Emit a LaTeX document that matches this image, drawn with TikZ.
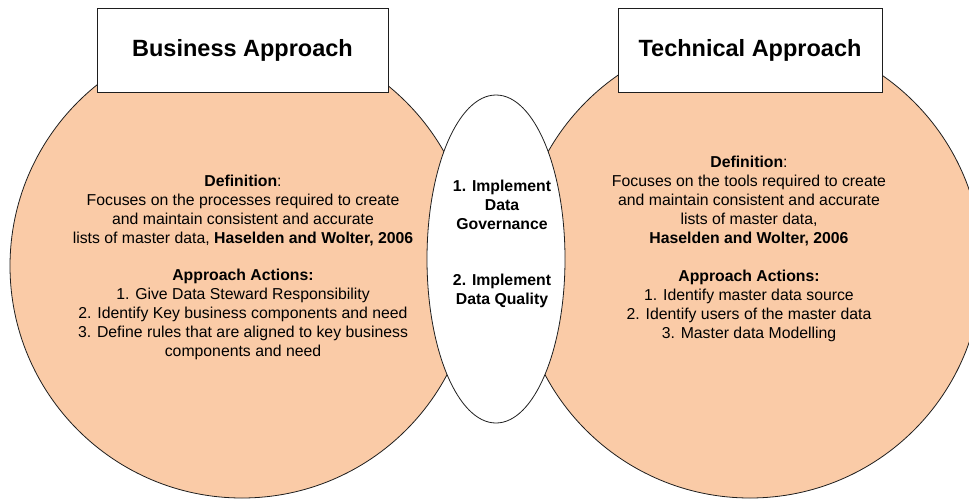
\documentclass[tikz,border=0pt]{standalone}
\usepackage{fontspec}
\setmainfont{Liberation Sans}
\usetikzlibrary{shapes.geometric}
\definecolor{peach}{RGB}{250,203,167}
\definecolor{edge}{RGB}{30,30,30}
\tikzset{
  disc/.style={circle, draw=edge, line width=0.8pt, fill=peach, minimum size=464pt, inner sep=0pt},
  titlebox/.style={rectangle, draw=edge, line width=0.8pt, fill=white, minimum height=84pt, inner sep=0pt,
     font=\fontsize{23.5}{28}\selectfont\bfseries},
  midellipse/.style={ellipse, draw=edge, line width=0.8pt, fill=white, minimum width=138pt, minimum height=328pt, inner sep=0pt},
  bodytext/.style={align=center, inner sep=0pt, font=\fontsize{15.8}{18.8}\selectfont},
}
\begin{document}
\begin{tikzpicture}[x=1pt, y=-1pt]
\useasboundingbox (0,0) rectangle (969,498);
\clip (0,0) rectangle (969,498);
\node[disc] (L) at (242,266) {};
\node[disc] (R) at (750,266) {};
\node[midellipse] (M) at (496,259) {};
\node[titlebox, minimum width=291pt] (LT) at (242.5,50) {Business Approach};
\node[titlebox, minimum width=264pt] (RT) at (750,50) {Technical Approach};
\node[bodytext] (LX) at (243,267.5) {\textbf{Definition}:\\
Focuses on the processes required to create\\
and maintain consistent and accurate\\
lists of master data, \textbf{Haselden and Wolter, 2006}\\[18.8pt]
\textbf{Approach Actions:}\\
1. Give Data Steward Responsibility\\
2. Identify Key business components and need\\
3. Define rules that are aligned to key business\\
components and need};
\node[bodytext, font=\fontsize{15.8}{19}\selectfont] (RX) at (749,248.5) {\textbf{Definition}:\\
Focuses on the tools required to create\\
and maintain consistent and accurate\\
lists of master data,\\
\textbf{Haselden and Wolter, 2006}\\[19pt]
\textbf{Approach Actions:}\\
1. Identify master data source\\
2. Identify users of the master data\\
3. Master data Modelling};
\node[bodytext, font=\fontsize{15.8}{18.8}\selectfont\bfseries] (MX) at (502,244) {1. Implement\\
Data\\
Governance\\[37.6pt]
2. Implement\\
Data Quality};
\end{tikzpicture}
\end{document}
